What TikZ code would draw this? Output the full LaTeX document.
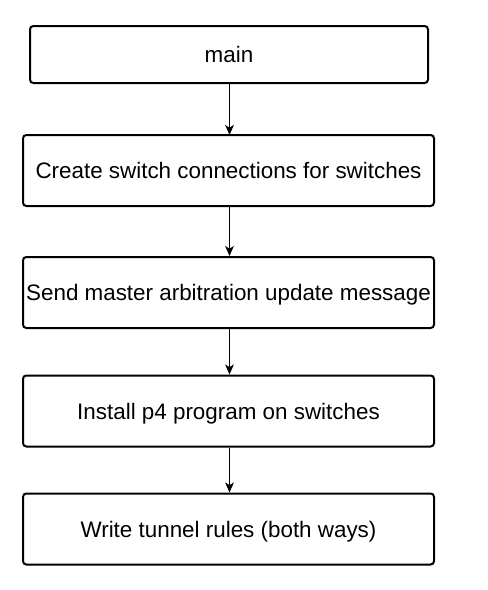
\documentclass[tikz,border=0pt]{standalone}
\usepackage{fontspec}
\setmainfont{Liberation Sans}
\usetikzlibrary{arrows.meta}
\begin{document}
\begin{tikzpicture}[x=0.75pt,y=-0.75pt,
  stepbox/.style={draw=black,line width=1.5pt,rounded corners=2.5pt,fill=white,inner sep=0pt,text height=13pt,text depth=0.5pt,font=\fontsize{16.8}{20}\selectfont},
  flow/.style={-{Stealth[length=7.5pt,width=6.5pt,inset=2pt]},line width=0.75pt}]
\useasboundingbox (0,0) rectangle (487,590);
\node[stepbox,minimum width=398*0.75pt,minimum height=57*0.75pt] (main) at (229,54.5) {main};
\node[stepbox,minimum width=411*0.75pt,minimum height=71*0.75pt] (conn) at (228.5,170.5) {Create switch connections for switches};
\node[stepbox,minimum width=411*0.75pt,minimum height=71*0.75pt] (arb) at (228.5,292.5) {Send master arbitration update message};
\node[stepbox,minimum width=411*0.75pt,minimum height=71*0.75pt] (p4) at (228.5,411) {Install p4 program on switches};
\node[stepbox,minimum width=411*0.75pt,minimum height=71*0.75pt] (tun) at (228.5,529) {Write tunnel rules (both ways)};
\draw[flow] (229.5,83) -- (229.5,135);
\draw[flow] (conn.south) ++(1,0) coordinate (c1) (c1) -- (c1 |- arb.north);
\draw[flow] (arb.south) ++(1,0) coordinate (c2) (c2) -- (c2 |- p4.north);
\draw[flow] (p4.south) ++(1,0) coordinate (c3) (c3) -- (c3 |- tun.north);
\end{tikzpicture}
\end{document}
